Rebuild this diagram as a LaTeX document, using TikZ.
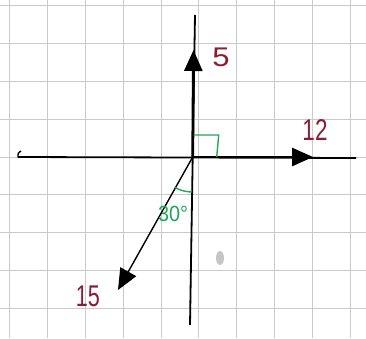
\documentclass[tikz,border=0pt]{standalone}
\usepackage{fontspec}
\setmainfont{Liberation Sans}
\usetikzlibrary{arrows.meta,calc}
\definecolor{gridc}{HTML}{CACACA}
\definecolor{lab}{HTML}{8C1C32}
\definecolor{grn}{HTML}{1FA855}
\tikzset{
  gridline/.style={gridc, line width=0.8pt},
  axisline/.style={black, line width=1.8pt},
  vec/.style={black, line width=2.8pt, -{Triangle[length=21pt,width=18pt]}},
  thinvec/.style={black, line width=1.4pt, -{Triangle[length=21pt,width=18pt]}},
  lbl/.style={text=lab, font=\fontsize{30}{30}\selectfont, inner sep=0pt},
  glbl/.style={text=grn, font=\fontsize{22}{22}\selectfont, inner sep=0pt},
  anglemark/.style={grn, line width=1.4pt},
}
\begin{document}
\begin{tikzpicture}[x=1pt,y=-1pt]
  \useasboundingbox (0,0) rectangle (366,338);
  \fill[white] (0,0) rectangle (366,338);
  % grid
  \foreach \i in {0,...,9} \draw[gridline] ({9.3+37.9*\i},0) -- ({9.3+37.9*\i},338);
  \foreach \j in {0,...,8} \draw[gridline] (0,{5.3+37.9*\j}) -- (366,{5.3+37.9*\j});
  % smudge
  \fill[gray!45] (220,258) ellipse (4pt and 7pt);
  % coordinates
  \coordinate (O) at (192.7,157);
  \coordinate (axT) at (195,15);
  \coordinate (axB) at (190,325);
  \coordinate (axL) at (18,157);
  \coordinate (axR) at (356,158);
  \coordinate (hook) at (21,151);
  \coordinate (tipU) at (193.5,50);
  \coordinate (tipR) at (313,157);
  \coordinate (tipD) at (118,290);
  % axes
  \draw[axisline] (axT) -- (axB);
  \draw[axisline] (axL) -- (axR);
  \draw[black, line width=1.4pt] (axL) .. controls (18,153) .. (hook);
  % vectors
  \draw[vec] (O) -- (tipU);
  \draw[vec] (O) -- (tipR);
  \draw[thinvec] (O) -- (tipD);
  % right angle mark
  \draw[anglemark] ($(O)+(1,-22)$) -- ($(O)+(26,-22)$) -- ($(O)+(24,0)$);
  % 30 degree arc
  \draw[anglemark] ($(O)+(-0.5,35)$) arc[start angle=-90, end angle=-120, radius=35pt];
  % labels
  \node[lbl, font=\fontsize{27}{27}\selectfont, xscale=1.15] (l5) at (221,57) {5};
  \node[lbl, xscale=0.75] (l12) at (315,130) {12};
  \node[lbl, xscale=0.72] (l15) at (88,296) {15};
  \node[glbl, xscale=0.9] (l30) at (173,214) {30°};
\end{tikzpicture}
\end{document}
